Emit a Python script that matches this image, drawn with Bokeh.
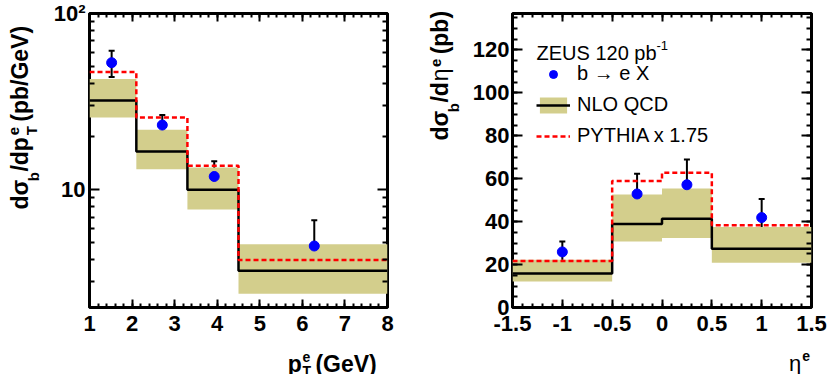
import numpy as np
from bokeh.plotting import figure
from bokeh.models import (Range1d, FixedTicker, Label, Legend, LegendItem, Whisker,
                          TeeHead, ColumnDataSource, LinearAxis, LogAxis, CustomJSTickFormatter)
from bokeh.layouts import row, column
from bokeh.embed import file_html
from bokeh.resources import INLINE

# ---------------- data: dsigma/dpT ----------------
pt_edges = [1.0, 2.1, 3.3, 4.5, 8.0]
pt_nlo = [32.1, 16.5, 10.0, 3.47]
pt_nlo_up = [42.5, 21.9, 13.4, 4.91]
pt_nlo_dn = [25.7, 13.1, 7.74, 2.57]
pt_pythia = [46.6, 25.7, 13.7, 4.0]
pt_x = [1.52, 2.71, 3.93, 6.28]
pt_y = [52.6, 23.3, 11.9, 4.8]
pt_err_up = [61.5, 26.6, 14.5, 6.71]
pt_err_dn = [43.6, 19.7, 9.25, 2.92]

# ---------------- data: dsigma/deta ----------------
eta_edges = [-1.5, -0.5, 0.0, 0.5, 1.5]
eta_nlo = [15.8, 38.9, 41.4, 27.4]
eta_nlo_up = [22.3, 52.7, 55.5, 37.5]
eta_nlo_dn = [12.1, 30.7, 32.4, 20.9]
eta_pythia = [21.7, 58.9, 62.8, 38.3]
eta_x = [-1.0, -0.25, 0.25, 1.0]
eta_y = [25.9, 52.9, 57.2, 41.9]
eta_err_up = [30.7, 62.3, 69.0, 50.6]
eta_err_dn = [20.9, 43.4, 45.4, 33.0]

# axis ticks
pt_major = [1, 2, 3, 4, 5, 6, 7, 8]
pt_minor = [round(1 + 0.2 * i, 2) for i in range(36)]
logy_major = [10, 100]
logy_minor = [3, 4, 5, 6, 7, 8, 9, 20, 30, 40, 50, 60, 70, 80, 90]
eta_major = [-1.5, -1.0, -0.5, 0.0, 0.5, 1.0, 1.5]
eta_minor = [round(-1.5 + 0.1 * i, 2) for i in range(31)]
etay_major = [0, 20, 40, 60, 80, 100, 120]
etay_minor = list(range(0, 140, 5))

BAND = "#d3ce8c"
FONT = "Liberation Sans"
TICK_FS = "22px"
PH = 340          # height of the plot figures
XH = 34           # height of the x-title strips
YW = 47           # width of the y-title strips

WB = {'d': .611, 'σ': .56, 'b': .611, '/': .278, 'p': .611, 'e': .556, 'T': .611, ' ': .278,
      '(': .333, ')': .333, 'G': .778, 'V': .667, 'η': .58}


def tw(s, size):
    return sum(WB.get(c, .6) for c in s) * size * 1.05


def rich(p, pieces, x0, y0, vertical):
    adv = 0.0
    for text, size, shift, bold, step in pieces:
        if vertical:
            x, y, ang = x0 - shift, y0 + adv, np.pi / 2
        else:
            x, y, ang = x0 + adv, y0 + shift, 0.0
        p.add_layout(Label(x=x, y=y, x_units='screen', y_units='screen', text=text, angle=ang,
                           text_font=FONT, text_font_style='bold' if bold else 'normal',
                           text_font_size=f'{size}px', text_align='left',
                           text_baseline='alphabetic', text_color='black'))
        adv += tw(text, size) if step is None else step


def text_strip(w, h):
    f = figure(width=w, height=h, x_range=Range1d(0, 1), y_range=Range1d(0, 1),
               x_axis_location=None, y_axis_location=None, min_border=0,
               output_backend="svg", toolbar_location=None)
    f.outline_line_color = None
    f.grid.visible = False
    return f


def style_axis(ax, major, minor, tick_len, show_labels, overrides=None):
    ax.ticker = FixedTicker(ticks=major, minor_ticks=minor)
    ax.axis_line_color = None
    ax.major_tick_in = tick_len
    ax.major_tick_out = 0
    ax.minor_tick_in = tick_len // 2
    ax.minor_tick_out = 0
    ax.major_tick_line_width = 2
    ax.minor_tick_line_width = 2
    ax.major_tick_line_color = "black"
    ax.minor_tick_line_color = "black"
    ax.major_label_text_font = FONT
    ax.major_label_text_font_style = "bold"
    ax.major_label_text_color = "black"
    if show_labels:
        ax.major_label_text_font_size = TICK_FS
        if overrides:
            ax.major_label_overrides = overrides
    else:
        ax.major_label_text_font_size = "1px"
        ax.formatter = CustomJSTickFormatter(code="return ''")
        ax.major_label_standoff = 0


def make_fig(frame_w, fig_w, left, xr, yr, ytype):
    p = figure(frame_width=frame_w, frame_height=294, x_range=xr, y_range=yr,
               y_axis_type=ytype, output_backend="svg", toolbar_location=None,
               min_border_left=left, min_border_right=fig_w - left - frame_w,
               min_border_top=13, min_border_bottom=PH - 13 - 294)
    p.grid.visible = False
    p.outline_line_color = "black"
    p.outline_line_width = 3
    p.background_fill_color = "white"
    p.border_fill_color = "white"
    return p


def histo(p, edges, nlo, up, dn, pythia):
    band = p.quad(left=edges[:-1], right=edges[1:], top=up, bottom=dn,
                  fill_color=BAND, line_color=None)
    nlo_r = p.step(x=edges, y=nlo + [nlo[-1]], mode="after", line_color="black", line_width=2.5)
    py_r = p.step(x=edges, y=pythia + [pythia[-1]], mode="after", line_color="#ff0000",
                  line_width=2.5, line_dash="5 3")
    return band, nlo_r, py_r


def data_pts(p, x, y, up, dn):
    src = ColumnDataSource(dict(x=x, y=y, up=up, dn=dn))
    p.add_layout(Whisker(base="x", upper="up", lower="dn", source=src, line_width=2,
                         line_color="black",
                         upper_head=TeeHead(size=6, line_width=2, line_color="black"),
                         lower_head=TeeHead(size=6, line_width=2, line_color="black")))
    return p.scatter("x", "y", source=src, size=10, fill_color="#0000ff", line_color="#0000ff")


# ---------------- left panel (frame at x 89..387) ----------------
p1 = make_fig(298, 420 - YW, 89 - YW, Range1d(1, 8), Range1d(2.15, 100), "log")
histo(p1, pt_edges, pt_nlo, pt_nlo_up, pt_nlo_dn, pt_pythia)
data_pts(p1, pt_x, pt_y, pt_err_up, pt_err_dn)
style_axis(p1.xaxis[0], pt_major, pt_minor, 8, True)
p1.xaxis[0].major_label_standoff = 8
style_axis(p1.yaxis[0], logy_major, logy_minor, 10, True, {10: "10", 100: "10²"})
p1.yaxis[0].major_label_standoff = 4
top1 = LinearAxis()
style_axis(top1, pt_major, pt_minor, 8, False)
p1.add_layout(top1, "above")
right1 = LogAxis()
style_axis(right1, logy_major, logy_minor, 10, False)
p1.add_layout(right1, "right")

ylab1 = text_strip(YW, PH)
rich(ylab1, [("dσ", 23, 0, True, None), ("b", 15, -14, True, None), ("/dp", 23, 0, True, None),
             ("e", 15, 6, True, 0), ("T", 15, -12, True, tw("T", 15) + 4),
             (" (pb/GeV)", 23, 0, True, None)],
     19, PH - 209, True)
xlab1 = text_strip(420 - YW, XH)
w1 = tw("p", 23) + tw("T", 14) + 4 + tw(" (GeV)", 23)
rich(xlab1, [("p", 23, 0, True, None), ("e", 14, 7, True, 0),
             ("T", 14, -7, True, tw("T", 14) + 4), (" (GeV)", 23, 0, True, None)],
     297 - w1, 11, False)

# ---------------- right panel (frame at x 512..811) ----------------
p2 = make_fig(299, 827 - 420 - YW, 512 - 420 - YW, Range1d(-1.5, 1.5), Range1d(0, 137), "linear")
band, nlo_r, py_r = histo(p2, eta_edges, eta_nlo, eta_nlo_up, eta_nlo_dn, eta_pythia)
pts = data_pts(p2, eta_x, eta_y, eta_err_up, eta_err_dn)
style_axis(p2.xaxis[0], eta_major, eta_minor, 8, True,
           {-1.5: "-1.5", -1.0: "-1", -0.5: "-0.5", 0.0: "0", 0.5: "0.5", 1.0: "1", 1.5: "1.5"})
p2.xaxis[0].major_label_standoff = 8
style_axis(p2.yaxis[0], etay_major, etay_minor, 10, True)
p2.yaxis[0].major_label_standoff = 3
top2 = LinearAxis()
style_axis(top2, eta_major, eta_minor, 8, False)
p2.add_layout(top2, "above")
right2 = LinearAxis()
style_axis(right2, etay_major, etay_minor, 10, False)
p2.add_layout(right2, "right")

ylab2 = text_strip(YW, PH)
rich(ylab2, [("dσ", 23, 0, True, None), ("b", 15, -14, True, None), ("/d", 23, 0, True, None),
             ("η", 23, 0, False, None), ("e", 15, 4, True, tw("e", 15) + 4),
             (" (pb)", 23, 0, True, None)],
     19, PH - 140, True)
xlab2 = text_strip(827 - 420 - YW, XH)
w2 = tw("η", 22) + tw("e", 14)
rich(xlab2, [("η", 22, 0, False, None), ("e", 14, 8, True, None)],
     298 - w2, 11, False)

# legend title
p2.add_layout(Label(x=24, y=255, x_units='screen', y_units='screen', text="ZEUS 120 pb",
                    text_font=FONT, text_font_size="20px", text_baseline="alphabetic",
                    text_color="black"))
p2.add_layout(Label(x=24 + 120, y=262, x_units='screen', y_units='screen', text="-1",
                    text_font=FONT, text_font_size="13px", text_baseline="alphabetic",
                    text_color="black"))

legend = Legend(items=[LegendItem(label="b → e X", renderers=[pts]),
                       LegendItem(label="NLO QCD", renderers=[band, nlo_r]),
                       LegendItem(label="PYTHIA x 1.75", renderers=[py_r])],
                location=(24, 160), glyph_width=34, glyph_height=20, spacing=8,
                label_standoff=7, padding=0, margin=0, border_line_color=None,
                background_fill_alpha=0, label_text_font=FONT, label_text_font_size="20px",
                label_text_color="black")
p2.add_layout(legend, "center")

layout = row(ylab1, column(p1, xlab1), ylab2, column(p2, xlab2))
open("out.html", "w").write(file_html(layout, INLINE))
